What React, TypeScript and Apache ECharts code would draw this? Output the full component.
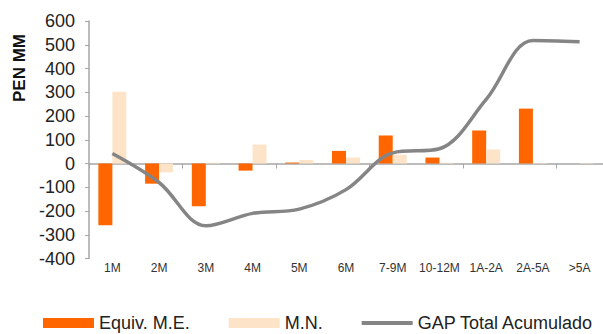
import React, { useEffect, useRef } from "react";
import * as echarts from "echarts";

const categories = ["1M", "2M", "3M", "4M", "5M", "6M", "7-9M", "10-12M", "1A-2A", "2A-5A", ">5A"];
const equivME = [-260, -85, -180, -30, 4, 53, 118, 25, 139, 231, 0];
const mn = [302, -37, 3, 80, 15, 25, 37, 3, 59, 2, 2];
const gapTotal = [42, -80, -262, -210, -192, -110, 45, 62, 270, 518, 513];
const yTicks = { min: -400, max: 600, interval: 100 };

const FONT = "'Liberation Sans', Arial, sans-serif";

export default function App() {
  const ref = useRef<HTMLDivElement>(null);
  useEffect(() => {
    const chart = echarts.init(ref.current!, null, { renderer: "svg" });
    chart.setOption({
      animation: false,
      textStyle: { fontFamily: FONT },
      grid: { left: 89, right: -3, top: 21, bottom: 75.5, containLabel: false },
      legend: {
        left: 43,
        top: 314,
        padding: 0,
        itemWidth: 51,
        itemHeight: 10,
        itemGap: 39,
        textStyle: { fontSize: 18, color: "#222", fontFamily: FONT, padding: [0, 0, 0, 0] },
        data: [
          { name: "Equiv. M.E.", icon: "rect" },
          { name: "M.N.", icon: "rect" },
          { name: "GAP Total Acumulado", icon: "path://M0,0L51,0L51,4L0,4Z" },
        ],
      },
      graphic: [
        {
          type: "text",
          x: 19,
          y: 68,
          rotation: Math.PI / 2,
          style: {
            text: "PEN MM",
            fontSize: 17,
            fontWeight: "bold",
            fontFamily: FONT,
            fill: "#111",
            align: "center",
            verticalAlign: "middle",
          },
        },
      ],
      xAxis: [
        {
          type: "category",
          data: categories,
          axisLine: { show: true, onZero: true, lineStyle: { color: "#a6a6a6", width: 1.5 } },
          axisTick: { show: true, length: 5, lineStyle: { color: "#a6a6a6", width: 1 } },
          axisLabel: { show: false },
        },
        {
          type: "category",
          data: categories,
          position: "bottom",
          axisLine: { show: false, onZero: false },
          axisTick: { show: false },
          axisLabel: { show: true, interval: 0, fontSize: 12, color: "#333", margin: 3 },
        },
      ],
      yAxis: {
        type: "value",
        min: yTicks.min,
        max: yTicks.max,
        interval: yTicks.interval,
        axisLine: { show: true, lineStyle: { color: "#a6a6a6", width: 1.5 } },
        axisTick: { show: true, length: 4, lineStyle: { color: "#a6a6a6" } },
        axisLabel: { fontSize: 18, color: "#222", margin: 14 },
        splitLine: { show: false },
      },
      series: [
        {
          name: "Equiv. M.E.",
          type: "bar",
          data: equivME,
          barWidth: 14,
          barGap: "0%",
          itemStyle: { color: "#ff6600" },
        },
        {
          name: "M.N.",
          type: "bar",
          data: mn,
          barWidth: 14,
          barGap: "0%",
          itemStyle: { color: "#fde4c8" },
        },
        {
          name: "GAP Total Acumulado",
          type: "line",
          data: gapTotal,
          smooth: 0.35,
          symbol: "none",
          lineStyle: { color: "#858585", width: 3.5 },
          itemStyle: { color: "#858585" },
        },
      ],
    });
    return () => chart.dispose();
  }, []);
  return (
    <div
      ref={ref}
      style={{ position: "fixed", left: 0, top: 0, width: 603, height: 334, background: "#fff" }}
    />
  );
}
